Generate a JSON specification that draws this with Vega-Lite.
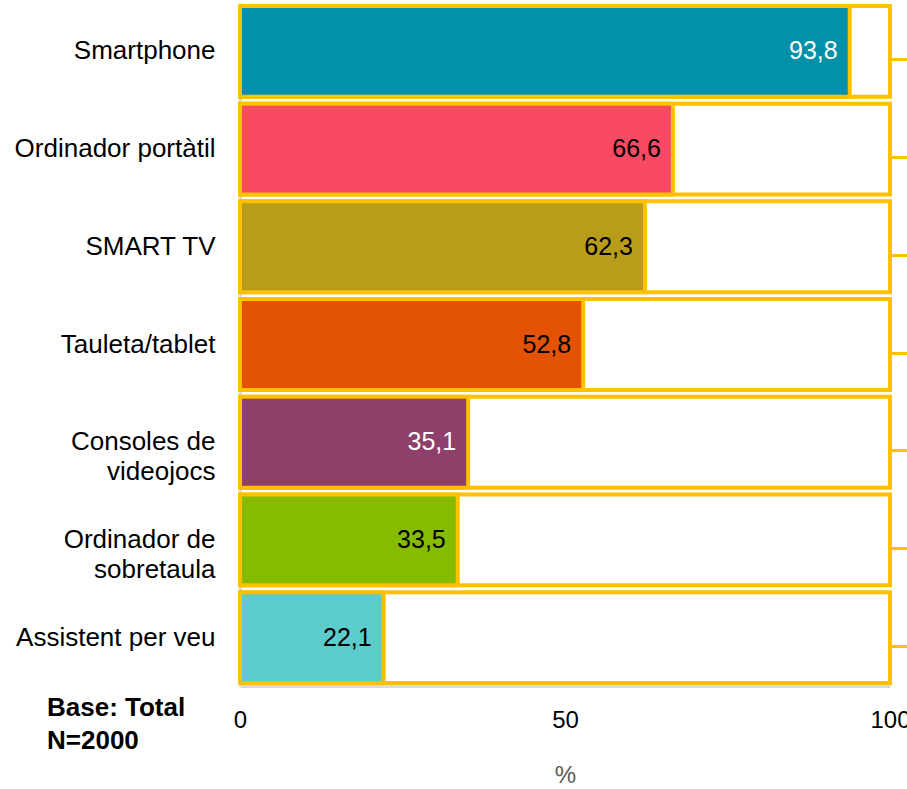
{
  "$schema": "https://vega.github.io/schema/vega-lite/v6.json",
  "width": 650,
  "height": 683,
  "autosize": {"type": "none"},
  "padding": {"left": 240, "top": 3, "right": 17, "bottom": 103},
  "background": "white",
  "config": {
    "view": {"stroke": null},
    "font": "Liberation Sans",
    "locale": {"number": {"decimal": ",", "thousands": ".", "grouping": [3], "currency": ["", " €"]}}
  },
  "title": {
    "text": ["Base: Total", "N=2000"],
    "orient": "bottom",
    "anchor": "start",
    "frame": "group",
    "font": "Liberation Sans",
    "fontSize": 26,
    "fontWeight": "bold",
    "color": "black",
    "lineHeight": 33,
    "dx": -193,
    "offset": -92
  },
  "data": {
    "values": [
      {"device": "Smartphone", "value": 93.8},
      {"device": "Ordinador portàtil", "value": 66.6},
      {"device": "SMART TV", "value": 62.3},
      {"device": "Tauleta/tablet", "value": 52.8},
      {"device": "Consoles de|videojocs", "value": 35.1},
      {"device": "Ordinador de|sobretaula", "value": 33.5},
      {"device": "Assistent per veu", "value": 22.1}
    ]
  },
  "resolve": {"axis": {"y": "independent"}},
  "layer": [
    {
      "mark": {"type": "bar", "fill": "white", "stroke": "#FFC000", "strokeWidth": 4},
      "encoding": {
        "y": {
          "field": "device", "type": "nominal", "sort": null,
          "scale": {"paddingInner": 0.07, "paddingOuter": 0.03},
          "axis": {
            "title": null,
            "labelExpr": "split(datum.label, '|')",
            "labelFontSize": 26,
            "labelColor": "black",
            "labelLineHeight": 30,
            "labelPadding": 25,
            "labelLimit": 300,
            "ticks": false,
            "domainColor": "#D9D9D9",
            "domainWidth": 3
          }
        },
        "x": {
          "datum": 100, "type": "quantitative",
          "scale": {"domain": [0, 100]},
          "axis": {
            "title": "%",
            "titleFontSize": 24,
            "titleFontWeight": "normal",
            "titleColor": "#595959",
            "titlePadding": 31,
            "values": [0, 50, 100],
            "labelFontSize": 24,
            "labelColor": "black",
            "labelPadding": 22,
            "labelFlush": false,
            "labelOverlap": false,
            "ticks": false,
            "grid": false,
            "domainColor": "#D9D9D9",
            "domainWidth": 3
          }
        }
      }
    },
    {
      "mark": {"type": "bar", "stroke": "#FFC000", "strokeWidth": 4},
      "encoding": {
        "y": {
          "field": "device", "type": "nominal", "sort": null,
          "axis": {
            "orient": "right",
            "title": null,
            "labels": false,
            "domain": false,
            "ticks": true,
            "tickColor": "#FFC000",
            "tickWidth": 3,
            "tickSize": 17,
            "tickOffset": 8
          }
        },
        "x": {"field": "value", "type": "quantitative"},
        "color": {
          "field": "device", "type": "nominal", "legend": null,
          "scale": {
            "domain": ["Smartphone", "Ordinador portàtil", "SMART TV", "Tauleta/tablet", "Consoles de|videojocs", "Ordinador de|sobretaula", "Assistent per veu"],
            "range": ["#0291A8", "#F84B63", "#B89D1A", "#E35205", "#8E3F6A", "#86BC00", "#5BCBCB"]
          }
        }
      }
    },
    {
      "mark": {"type": "text", "align": "right", "baseline": "middle", "dx": -12, "fontSize": 25, "font": "Liberation Sans"},
      "encoding": {
        "y": {"field": "device", "type": "nominal", "sort": null, "axis": null},
        "x": {"field": "value", "type": "quantitative"},
        "text": {"field": "value", "type": "quantitative", "format": ".1f"},
        "color": {
          "condition": {"test": "datum.device == 'Smartphone' || datum.device == 'Consoles de|videojocs'", "value": "white"},
          "value": "black"
        }
      }
    }
  ]
}
